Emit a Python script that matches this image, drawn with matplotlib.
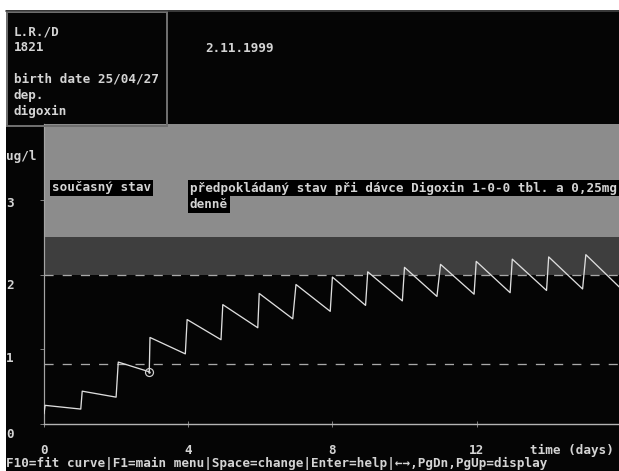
import matplotlib
matplotlib.use("Agg")
import matplotlib.pyplot as plt
from matplotlib.patches import Rectangle
from matplotlib.lines import Line2D
from matplotlib.transforms import ScaledTranslation

# serum digoxin level (ug/l), sawtooth vertices
time_days = [0.0, 0.03, 1.02, 1.06, 2.00, 2.06, 2.92, 2.94, 3.92, 3.97,
             4.91, 4.96, 5.93, 5.97, 6.90, 6.99, 7.94, 8.00, 8.92, 8.98,
             9.94, 10.00, 10.90, 11.00, 11.93, 11.99, 12.93, 12.99, 13.94, 14.00,
             14.94, 15.03, 15.95]
conc = [0.14, 0.25, 0.20, 0.44, 0.36, 0.83, 0.70, 1.16, 0.94, 1.40,
        1.13, 1.60, 1.29, 1.75, 1.41, 1.87, 1.51, 1.97, 1.59, 2.04,
        1.65, 2.10, 1.71, 2.14, 1.74, 2.18, 1.76, 2.21, 1.79, 2.24,
        1.81, 2.27, 1.84]
cursor_idx = 6  # the circled point (end of measured part)

therapeutic_low = 0.8
therapeutic_high = 2.0
warning_high = 2.5

x_ticks = [0, 4, 8, 12]
x_tick_labels = ["0", "4", "8", "12"]
y_ticks = [0, 1, 2, 3]
y_tick_labels = ["0", "1", "2", "3"]

header_lines = ["L.R./D", "1821", "", "birth date 25/04/27", "dep.", "digoxin"]
header_date = "2.11.1999"
label_now = "současný stav"
label_pred = ["předpokládaný stav při dávce Digoxin 1-0-0 tbl. a 0,25mg", "denně"]
unit_label = "ug/l"
x_label = "time (days)"
status_line = "F10=fit curve|F1=main menu|Space=change|Enter=help|←→,PgDn,PgUp=display"

W, H = 619, 471
DPI = 72  # 1 pt == 1 px
FONT = "DejaVu Sans Mono"
FS = 12.6
WEIGHT = "bold"
TXT = "#d4d4d4"


def fx(px):
    return px / W


def fy(py):
    return 1 - py / H


fig = plt.figure(figsize=(W / DPI, H / DPI), dpi=DPI, facecolor="white")
# black screen with a thin white scan margin top/left
fig.patches.append(Rectangle((fx(6), 0), 1 - fx(6), fy(10), transform=fig.transFigure,
                             facecolor="#050505", edgecolor="none", zorder=-2))
fig.lines.append(Line2D([fx(6), 1], [fy(11), fy(11)], transform=fig.transFigure,
                        color="#4a4a4a", lw=1.5))
fig.patches.append(Rectangle((fx(7), fy(126)), fx(167) - fx(7), fy(12) - fy(126),
                             transform=fig.transFigure, fill=False,
                             edgecolor="#6e6e6e", lw=2))

x_px0, x_scale = 44, 36.05
y_px0, y_scale = 424, 74.6
top_px = 124
ax = fig.add_axes([fx(x_px0), fy(y_px0), 1 - fx(x_px0), fy(top_px) - fy(y_px0)])
ax.set_facecolor("#050505")
ax.set_xlim(0, (W - x_px0) / x_scale)
ax.set_ylim(0, (y_px0 - top_px) / y_scale)

ax.axhspan(therapeutic_high, warning_high, color="#3e3e3e", lw=0, zorder=0)
ax.axhspan(warning_high, ax.get_ylim()[1], color="#8c8c8c", lw=0, zorder=0)
for lvl in (therapeutic_low, therapeutic_high):
    ax.axhline(lvl, color="#a8a8a8", lw=1.3, linestyle=(0, (7, 7)), zorder=1)

ax.plot(time_days, conc, color="#dedede", lw=1.3, zorder=3)
ax.plot(time_days[cursor_idx], conc[cursor_idx], "o", ms=8, mfc="none",
        mec="#cfcfcf", mew=1.2, zorder=4)
ax.plot(time_days[cursor_idx], conc[cursor_idx], ".", ms=3, color="#cfcfcf", zorder=4)

for side in ("top", "right"):
    ax.spines[side].set_visible(False)
ax.spines["left"].set_color("#a4a4a4")
ax.spines["bottom"].set_color("#b4b4b4")
ax.spines["left"].set_linewidth(1.2)
ax.spines["bottom"].set_linewidth(1.4)

ax.set_xticks(x_ticks, x_tick_labels)
ax.tick_params(axis="x", direction="inout", length=6, color="#9c9c9c",
               pad=17, labelsize=FS, labelcolor=TXT)
ax.set_yticks(y_ticks, y_tick_labels)
ax.tick_params(axis="y", direction="out", length=4, color="#9c9c9c",
               pad=34, labelsize=FS, labelcolor=TXT)
y_offsets = [9, 8, 9, 2]
for lab, off in zip(ax.get_yticklabels(), y_offsets):
    lab.set_horizontalalignment("left")
    lab.set_fontfamily(FONT)
    lab.set_fontweight(WEIGHT)
    lab.set_transform(lab.get_transform() + ScaledTranslation(0, -off / DPI, fig.dpi_scale_trans))
for lab in ax.get_xticklabels():
    lab.set_fontfamily(FONT)
    lab.set_fontweight(WEIGHT)

txt_kw = dict(family=FONT, size=FS, weight=WEIGHT, color=TXT, va="center", ha="left")

# header panel
for i, line in enumerate(header_lines):
    fig.text(fx(14), fy(32 + i * 15.8), line, **txt_kw)
fig.text(fx(205), fy(49), header_date, **txt_kw)

# labels inside the plot
box = dict(facecolor="black", edgecolor="none", boxstyle="square,pad=0.12")
fig.text(fx(52), fy(188), label_now, bbox=box, **txt_kw)
for i, line in enumerate(label_pred):
    fig.text(fx(190), fy(188 + i * 16.5), line, bbox=box, **txt_kw)

fig.text(fx(6), fy(157), unit_label, **txt_kw)
fig.text(fx(530), fy(450), x_label, **txt_kw)
fig.text(fx(6), fy(463), status_line, **txt_kw)

fig.savefig("out.png", dpi=DPI, facecolor=fig.get_facecolor())
